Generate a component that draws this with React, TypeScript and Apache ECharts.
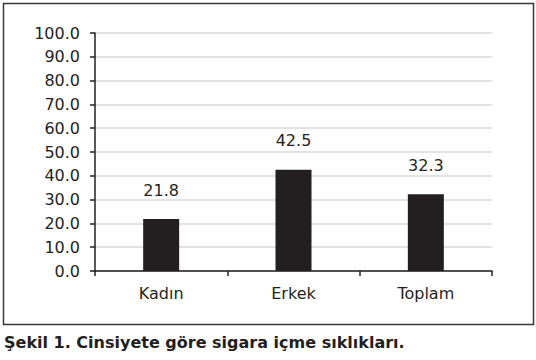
import React, { useEffect, useRef } from "react";
import * as echarts from "echarts";

const categories = ["Kadın", "Erkek", "Toplam"];
const values = [21.8, 42.5, 32.3];
const caption = "Şekil 1. Cinsiyete göre sigara içme sıklıkları.";

export default function App() {
  const ref = useRef<HTMLDivElement>(null);
  useEffect(() => {
    const chart = echarts.init(ref.current!, null, { renderer: "svg" });
    const font = "'DejaVu Sans', sans-serif";
    chart.setOption({
      animation: false,
      backgroundColor: "#ffffff",
      graphic: [
        {
          type: "rect",
          shape: { x: 3.5, y: 3.5, width: 530, height: 321 },
          style: { fill: "none", stroke: "#3a3a3a", lineWidth: 1.5 },
          z: -1,
        },
        {
          type: "text",
          left: 4,
          top: 334,
          style: {
            text: caption,
            font: `bold 16px ${font}`,
            fill: "#231f20",
          },
        },
      ],
      grid: { left: 95, right: 44, top: 33, bottom: 89 },
      xAxis: {
        type: "category",
        data: categories,
        axisLine: { lineStyle: { color: "#231f20", width: 1.5 } },
        axisTick: { show: true, length: 5, lineStyle: { color: "#231f20", width: 1.5 } },
        axisLabel: { color: "#231f20", fontSize: 16, fontFamily: font, margin: 14 },
      },
      yAxis: {
        type: "value",
        min: 0,
        max: 100,
        interval: 10,
        axisLine: { show: true, lineStyle: { color: "#231f20", width: 1.5 } },
        axisTick: { show: true, length: 5, lineStyle: { color: "#231f20", width: 1.5 } },
        axisLabel: {
          color: "#231f20",
          fontSize: 16,
          fontFamily: font,
          margin: 15,
          formatter: (v: number) => v.toFixed(1),
        },
        splitLine: { lineStyle: { color: "#d9d9d9", width: 1.5 } },
      },
      series: [
        {
          type: "bar",
          data: values,
          barWidth: 36,
          itemStyle: { color: "#231f20" },
          label: {
            show: true,
            position: "top",
            distance: 21,
            color: "#231f20",
            fontSize: 16,
            fontFamily: font,
            formatter: (p: any) => Number(p.value).toFixed(1),
          },
        },
      ],
    });
    return () => chart.dispose();
  }, []);
  return (
    <div
      ref={ref}
      style={{ position: "fixed", left: 0, top: 0, width: 536, height: 360 }}
    />
  );
}
